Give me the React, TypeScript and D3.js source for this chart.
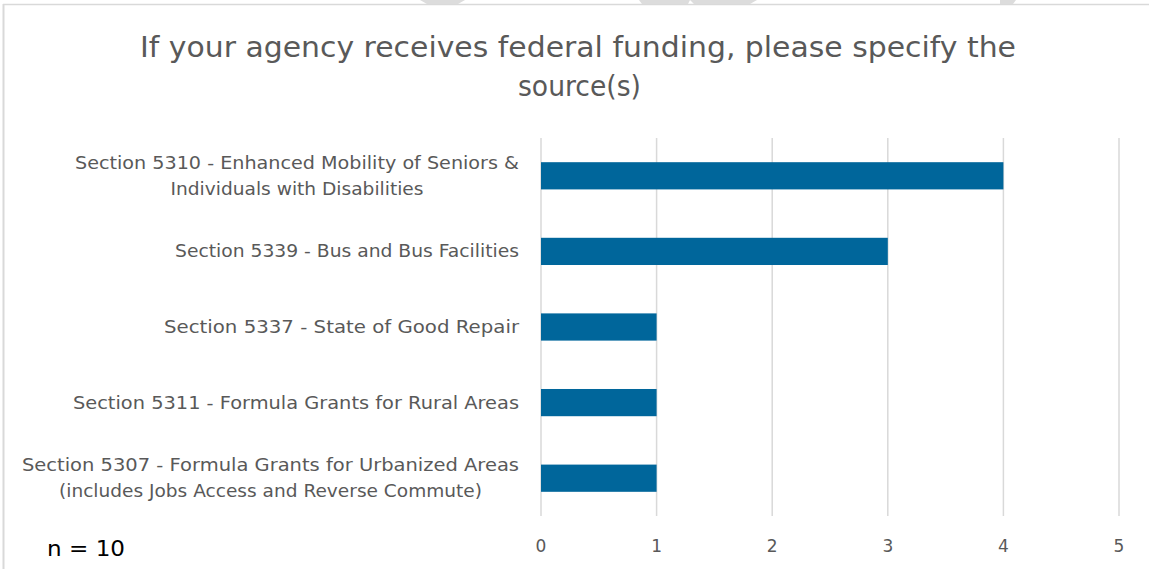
import React from "react";
import * as d3 from "d3";

const categories: string[][] = [
  ["Section 5310 - Enhanced Mobility of Seniors &", "Individuals with Disabilities"],
  ["Section 5339 - Bus and Bus Facilities"],
  ["Section 5337 - State of Good Repair"],
  ["Section 5311 - Formula Grants for Rural Areas"],
  ["Section 5307 - Formula Grants for Urbanized Areas", "(includes Jobs Access and Reverse Commute)"],
];
// measured text widths of the reference (px)
const labelWidths: number[][] = [[444, 253], [344], [355], [446], [497, 423]];
const values: number[] = [4, 3, 1, 1, 1];
const xTicks: number[] = [0, 1, 2, 3, 4, 5];
const titleLines: string[] = ["If your agency receives federal funding, please specify the", "source(s)"];
const titleWidths: number[] = [876, 123];
const noteText = "n = 10";

const W = 1149;
const H = 569;
const FONT = "'DejaVu Sans', sans-serif";

export default function App() {
  const x = d3.scaleLinear().domain([0, 5]).range([541, 1119]);
  const keys = categories.map((_, i) => String(i));
  const y = d3.scaleBand<string>().domain(keys).range([138, 516]).paddingInner(0.64).paddingOuter(0.32);
  const bw = y.bandwidth();
  return (
    <svg width={W} height={H} style={{ position: "absolute", left: 0, top: 0 }}>
      <rect x={0} y={0} width={W} height={H} fill="#fff" />
      <g fill="#dcdcdc">
        <polygon points="420,0 465,0 458,4 427,4" />
        <polygon points="639,0 690,0 688,4 642,4" />
        <polygon points="690,0 757,0 750,4 694,4" />
        <polygon points="1000,0 1016,0 1013,4 1000,4" />
      </g>
      <line x1={3.5} y1={4} x2={3.5} y2={H} stroke="#d9d9d9" strokeWidth={2} />
      <line x1={3} y1={4.5} x2={W} y2={4.5} stroke="#d9d9d9" strokeWidth={1.5} />
      {titleLines.map((t, i) => (
        <text
          key={i}
          x={i === 0 ? 578 : 579.5}
          y={57 + i * 39}
          textAnchor="middle"
          fontFamily={FONT}
          fontSize={28}
          fill="#595959"
          textLength={titleWidths[i]}
          lengthAdjust="spacingAndGlyphs"
        >
          {t}
        </text>
      ))}
      {xTicks.map((t) => (
        <g key={t}>
          <line x1={x(t)} x2={x(t)} y1={138} y2={516} stroke="#d9d9d9" strokeWidth={1.5} />
          <text x={x(t)} y={552} textAnchor="middle" fontFamily={FONT} fontSize={17} fill="#595959">
            {t}
          </text>
        </g>
      ))}
      {values.map((v, i) => {
        const yy = y(String(i))!;
        return <rect key={i} x={x(0)} y={yy} width={x(v) - x(0)} height={bw} fill="#00669b" />;
      })}
      {categories.map((lines, i) => {
        const c = y(String(i))! + bw / 2;
        const start = c + 6 - ((lines.length - 1) * 26) / 2;
        const widths = labelWidths[i];
        const blockW = Math.max(...widths);
        const cx = 519 - blockW / 2;
        return lines.map((l, j) => (
          <text
            key={i + "-" + j}
            x={cx}
            y={start + j * 26}
            textAnchor="middle"
            fontFamily={FONT}
            fontSize={17}
            fill="#595959"
            textLength={widths[j]}
            lengthAdjust="spacingAndGlyphs"
          >
            {l}
          </text>
        ));
      })}
      <text x={47} y={556} fontFamily={FONT} fontSize={22} fill="#000" textLength={78} lengthAdjust="spacingAndGlyphs">
        {noteText}
      </text>
    </svg>
  );
}
